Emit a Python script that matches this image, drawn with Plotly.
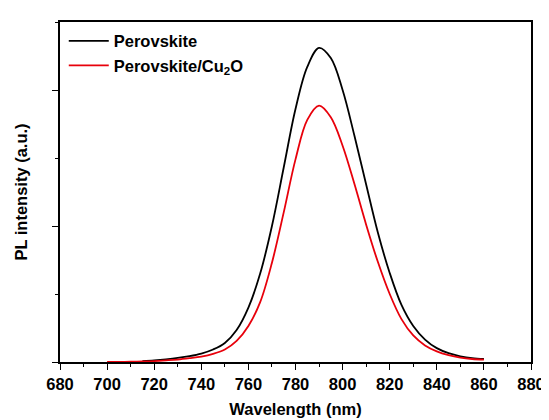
import plotly.graph_objects as go

# Wavelength grids (nm)
wl_black = [715, 720, 725, 730, 735, 740, 745, 750, 755, 760, 765, 770, 775, 780, 785,
            790, 795, 800, 805, 810, 815, 820, 825, 830, 835, 840, 845, 850, 855, 860]
pl_black = [0.006, 0.012, 0.02, 0.03, 0.043, 0.062, 0.092, 0.14, 0.235, 0.40, 0.65, 1.0, 1.43, 1.86, 2.17,
            2.31, 2.235, 2.0, 1.665, 1.305, 0.95, 0.655, 0.42, 0.265, 0.165, 0.102, 0.065, 0.042, 0.028, 0.022]

wl_red = [700, 705, 710, 715, 720, 725, 730, 735, 740, 745, 750, 755, 760, 765, 770, 775, 780, 785,
          790, 795, 800, 805, 810, 815, 820, 825, 830, 835, 840, 845, 850, 855, 860]
pl_red = [0.0, 0.001, 0.002, 0.004, 0.007, 0.012, 0.018, 0.028, 0.04, 0.06, 0.092, 0.155, 0.265, 0.44, 0.73, 1.10, 1.49, 1.78,
          1.885, 1.80, 1.59, 1.31, 1.01, 0.735, 0.50, 0.315, 0.195, 0.122, 0.078, 0.05, 0.032, 0.022, 0.018]

x_ticks = [680, 700, 720, 740, 760, 780, 800, 820, 840, 860, 880]

FONT = "Liberation Sans, Arial, sans-serif"
FS = 16.5

fig = go.Figure()
fig.add_trace(go.Scatter(x=wl_black, y=pl_black, mode="lines", name="Perovskite",
                         line=dict(color="black", width=1.8, shape="spline", smoothing=1.0)))
fig.add_trace(go.Scatter(x=wl_red, y=pl_red, mode="lines", name="Perovskite/Cu<sub>2</sub>O",
                         line=dict(color="#e8000b", width=1.8, shape="spline", smoothing=1.0)))

axis_common = dict(showline=True, linecolor="black", linewidth=1.6, mirror=True,
                   showgrid=False, zeroline=False, ticks="outside", tickcolor="black",
                   tickwidth=1.4)

fig.update_xaxes(**axis_common, range=[680, 880], tickvals=x_ticks, ticklen=6,
                 minor=dict(dtick=10, ticks="outside", ticklen=3, tickcolor="black", tickwidth=1.4),
                 tickfont=dict(family=FONT, size=FS, color="black", weight="bold"),
                 title=dict(text="Wavelength (nm)", standoff=12,
                            font=dict(family=FONT, size=FS, color="black", weight="bold")))
fig.update_yaxes(**axis_common, range=[0, 2.5], dtick=1, tick0=0, ticklen=6, showticklabels=False,
                 minor=dict(dtick=0.5, ticks="outside", ticklen=3, tickcolor="black", tickwidth=1.4),
                 title=dict(text="PL intensity (a.u.)", standoff=20,
                            font=dict(family=FONT, size=FS, color="black", weight="bold")))

fig.update_layout(
    width=549, height=420,
    margin=dict(l=52, r=21, t=14, b=56),
    paper_bgcolor="white", plot_bgcolor="white",
    legend=dict(x=0.008, y=0.995, xanchor="left", yanchor="top", bgcolor="rgba(0,0,0,0)",
                font=dict(family=FONT, size=FS, color="black", weight="bold"),
                tracegroupgap=0, itemwidth=40),
)

fig.write_html("out.html")
